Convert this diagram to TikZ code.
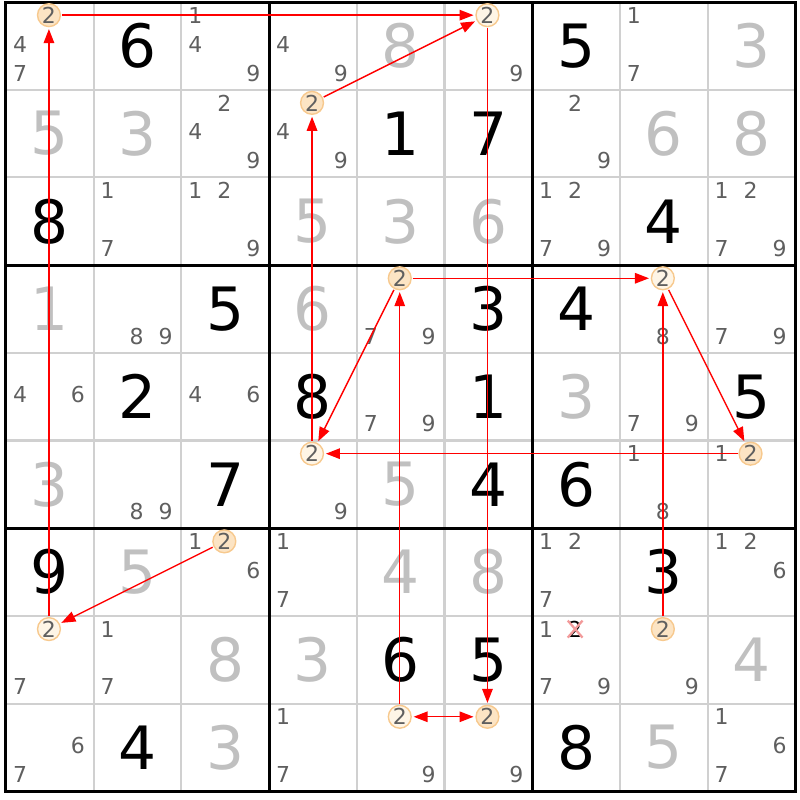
\documentclass[tikz,border=0pt]{standalone}
\usepackage{fontspec}
\setmainfont{DejaVu Sans}
\usepackage{tikz}
\usetikzlibrary{arrows.meta,shapes}
\definecolor{solvedgray}{HTML}{C0C0C0}
\definecolor{pencilgray}{HTML}{5F5F5F}
\definecolor{gridgray}{HTML}{D0D0D0}
\definecolor{candedge}{HTML}{F7C98E}
\definecolor{candonfill}{HTML}{FCE4C4}
\definecolor{candofffill}{HTML}{FEF5E6}
\definecolor{crosspink}{HTML}{F29A9A}
\tikzstyle{given} = [inner sep=0pt, font=\fontsize{34}{34}\selectfont]
\tikzstyle{solved} = [given, text=solvedgray]
\tikzstyle{pencilmark} = [inner sep=0pt, text=pencilgray, font=\fontsize{12.5}{12.5}\selectfont]
\tikzstyle{cand} = [pencilmark, circle, draw=candedge, line width=0.8pt, minimum size=13pt]
\tikzstyle{cand on} = [cand, fill=candonfill]
\tikzstyle{cand off} = [cand, fill=candofffill]
\tikzstyle{thin line} = [draw=gridgray, line width=1.2pt]
\tikzstyle{box line} = [draw=black, line width=1.7pt]
\tikzstyle{link} = [draw=red, line width=0.8pt, -{Triangle[length=8pt,width=6pt]}, shorten >=1pt, shorten <=0.5pt]
\tikzstyle{link both} = [link, {Triangle[length=8pt,width=6pt]}-{Triangle[length=8pt,width=6pt]}, shorten <=1pt]
% cell digits: row, column, digit
\newcommand{\given}[3]{\node[given] (d#1#2) at (#2-0.5,#1-0.5) {#3};}
\newcommand{\solved}[3]{\node[solved] (d#1#2) at (#2-0.5,#1-0.5) {#3};}
\newcommand{\pencil}[3]{%
  \foreach \n in {#3} {%
    \pgfmathsetmacro{\px}{#2-1+0.16+0.33*mod(\n-1,3)}%
    \pgfmathsetmacro{\py}{#1-1+0.15+0.33*int((\n-1)/3)}%
    \node[pencilmark] (p#1#2\n) at (\px,\py) {\n};
  }}
\newcommand{\cand}[3]{\node[#3] (r#1c#2) at (#2-1+0.49,#1-1+0.15) {2};}
\begin{document}
\begin{tikzpicture}[x=1.754cm, y=-1.754cm]
	\useasboundingbox (-0.068,-0.023) rectangle (9.054,9.099);
	
	% grid
	\foreach \i in {1,2,4,5,7,8} {
		\draw[thin line] (\i,0) -- (\i,9);
		\draw[thin line] (0,\i) -- (9,\i);
	}
	\foreach \i in {3,6} {
		\draw[box line] (\i,0) -- (\i,9);
		\draw[box line] (0,\i) -- (9,\i);
	}
	\draw[box line] (0,0) rectangle (9,9);
	
	% row 1
	\cand{1}{1}{cand on} \pencil{1}{1}{4,7}
	\given{1}{2}{6}
	\pencil{1}{3}{1,4,9}
	\pencil{1}{4}{4,9}
	\solved{1}{5}{8}
	\cand{1}{6}{cand off} \pencil{1}{6}{9}
	\given{1}{7}{5}
	\pencil{1}{8}{1,7}
	\solved{1}{9}{3}
	% row 2
	\solved{2}{1}{5}
	\solved{2}{2}{3}
	\pencil{2}{3}{2,4,9}
	\cand{2}{4}{cand on} \pencil{2}{4}{4,9}
	\given{2}{5}{1}
	\given{2}{6}{7}
	\pencil{2}{7}{2,9}
	\solved{2}{8}{6}
	\solved{2}{9}{8}
	% row 3
	\given{3}{1}{8}
	\pencil{3}{2}{1,7}
	\pencil{3}{3}{1,2,9}
	\solved{3}{4}{5}
	\solved{3}{5}{3}
	\solved{3}{6}{6}
	\pencil{3}{7}{1,2,7,9}
	\given{3}{8}{4}
	\pencil{3}{9}{1,2,7,9}
	% row 4
	\solved{4}{1}{1}
	\pencil{4}{2}{8,9}
	\given{4}{3}{5}
	\solved{4}{4}{6}
	\cand{4}{5}{cand on} \pencil{4}{5}{7,9}
	\given{4}{6}{3}
	\given{4}{7}{4}
	\cand{4}{8}{cand off} \pencil{4}{8}{8}
	\pencil{4}{9}{7,9}
	% row 5
	\pencil{5}{1}{4,6}
	\given{5}{2}{2}
	\pencil{5}{3}{4,6}
	\given{5}{4}{8}
	\pencil{5}{5}{7,9}
	\given{5}{6}{1}
	\solved{5}{7}{3}
	\pencil{5}{8}{7,9}
	\given{5}{9}{5}
	% row 6
	\solved{6}{1}{3}
	\pencil{6}{2}{8,9}
	\given{6}{3}{7}
	\cand{6}{4}{cand off} \pencil{6}{4}{9}
	\solved{6}{5}{5}
	\given{6}{6}{4}
	\given{6}{7}{6}
	\pencil{6}{8}{1,8}
	\pencil{6}{9}{1} \cand{6}{9}{cand on}
	% row 7
	\given{7}{1}{9}
	\solved{7}{2}{5}
	\pencil{7}{3}{1,6} \cand{7}{3}{cand on}
	\pencil{7}{4}{1,7}
	\solved{7}{5}{4}
	\solved{7}{6}{8}
	\pencil{7}{7}{1,2,7}
	\given{7}{8}{3}
	\pencil{7}{9}{1,2,6}
	% row 8
	\cand{8}{1}{cand off} \pencil{8}{1}{7}
	\pencil{8}{2}{1,7}
	\solved{8}{3}{8}
	\solved{8}{4}{3}
	\given{8}{5}{6}
	\given{8}{6}{5}
	\pencil{8}{7}{1,7,9}
	\node[pencilmark, text=black, minimum width=8pt, minimum height=9pt] (x87) at (6.49,7.15) {2};
	\cand{8}{8}{cand on} \pencil{8}{8}{9}
	\solved{8}{9}{4}
	% row 9
	\pencil{9}{1}{6,7}
	\given{9}{2}{4}
	\solved{9}{3}{3}
	\pencil{9}{4}{1,7}
	\cand{9}{5}{cand off} \pencil{9}{5}{9}
	\cand{9}{6}{cand on} \pencil{9}{6}{9}
	\given{9}{7}{8}
	\solved{9}{8}{5}
	\pencil{9}{9}{1,6,7}
	
	% eliminated candidate
	\draw[crosspink, line width=1.3pt] (x87.north west) -- (x87.south east);
	\draw[crosspink, line width=1.3pt] (x87.north east) -- (x87.south west);
	
	% chain
	\draw[link] (r8c1) -- (r1c1);
	\draw[link] (r1c1) -- (r1c6);
	\draw[link] (r2c4) -- (r1c6);
	\draw[link] (r6c4) -- (r2c4);
	\draw[link] (r1c6) -- (r9c6);
	\draw[link both] (r9c5) -- (r9c6);
	\draw[link] (r9c5) -- (r4c5);
	\draw[link] (r4c5) -- (r4c8);
	\draw[link] (r4c5) -- (r6c4);
	\draw[link] (r6c9) -- (r6c4);
	\draw[link] (r8c8) -- (r4c8);
	\draw[link] (r4c8) -- (r6c9);
	\draw[link] (r7c3) -- (r8c1);
	
\end{tikzpicture}
\end{document}
